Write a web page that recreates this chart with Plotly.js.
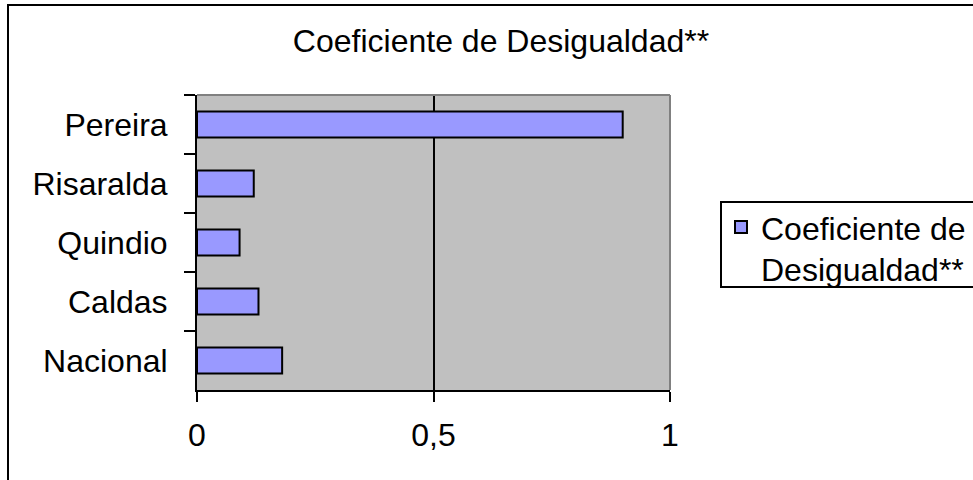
<!DOCTYPE html>
<html>
<head>
<meta charset="utf-8">
<script src="https://cdn.plot.ly/plotly-3.0.1.min.js"></script>
<style>
  html, body { margin: 0; padding: 0; background: #ffffff; overflow: hidden; }
  #chart { width: 973px; height: 480px; position: absolute; left: 0; top: 0; }
  #frame { position: absolute; left: 7px; top: 4px; width: 1000px; height: 520px;
           border: 2px solid #000; pointer-events: none; box-sizing: border-box; }
</style>
</head>
<body>
<div id="chart"></div>
<div id="frame"></div>
<script>
const categories = ['Pereira', 'Risaralda', 'Quindio', 'Caldas', 'Nacional'];
const values = [0.90, 0.12, 0.09, 0.13, 0.18];
const seriesName = 'Coeficiente de<br>Desigualdad**';
const chartTitle = 'Coeficiente de Desigualdad**';
const xTicks = [0, 0.5, 1];

const FONT = '"Liberation Sans", Arial, "DejaVu Sans", sans-serif';
const FS = 32;

const trace = {
  type: 'bar',
  orientation: 'h',
  x: values,
  y: categories,
  name: seriesName,
  marker: { color: '#9999FF', line: { color: '#000000', width: 2 } },
  showlegend: true,
  hoverinfo: 'x+y'
};

const layout = {
  width: 973,
  height: 480,
  margin: { l: 197, r: 303, t: 95, b: 90, pad: 0, autoexpand: false },
  paper_bgcolor: '#ffffff',
  plot_bgcolor: '#C0C0C0',
  separators: ',.',
  font: { family: FONT, size: FS, color: '#000000' },
  title: {
    text: chartTitle,
    font: { family: FONT, size: FS, color: '#000000' },
    xref: 'paper', x: (501 - 197) / 473, xanchor: 'center',
    yref: 'container', y: 1 - 41 / 480, yanchor: 'middle'
  },
  bargap: 0.56,
  showlegend: true,
  legend: {
    x: (721 - 197) / 473, xanchor: 'left',
    y: 0.645, yanchor: 'top',
    bgcolor: 'rgba(0,0,0,0)',
    borderwidth: 0,
    valign: 'top',
    font: { family: FONT, size: FS, color: '#000000' }
  },
  xaxis: {
    range: [0, 1],
    tickvals: xTicks,
    ticks: 'outside', ticklen: 10, tickwidth: 2, tickcolor: '#000000',
    showline: true, linecolor: '#000000', linewidth: 2,
    showgrid: true, gridcolor: '#000000', gridwidth: 2,
    zeroline: false,
    ticklabelstandoff: 6,
    tickfont: { family: FONT, size: FS, color: '#000000' },
    fixedrange: true
  },
  yaxis: {
    type: 'category',
    autorange: 'reversed',
    tickson: 'boundaries',
    ticks: 'outside', ticklen: 11, tickwidth: 2, tickcolor: '#000000',
    showline: true, linecolor: '#000000', linewidth: 2,
    showgrid: false,
    zeroline: false,
    ticklabelstandoff: 21,
    tickfont: { family: FONT, size: FS, color: '#000000' },
    fixedrange: true
  },
  shapes: [
    { type: 'line', xref: 'paper', yref: 'paper', x0: 0, x1: 1, y0: 1, y1: 1,
      line: { color: '#808080', width: 2 }, layer: 'above' },
    { type: 'line', xref: 'paper', yref: 'paper', x0: 1, x1: 1, y0: 0, y1: 1,
      line: { color: '#808080', width: 2 }, layer: 'above' },
    { type: 'rect', xref: 'paper', yref: 'paper',
      x0: (721 - 197) / 473, x1: 1.8, y0: (390 - 287) / 295, y1: (390 - 202) / 295,
      line: { color: '#000000', width: 2 }, fillcolor: 'rgba(0,0,0,0)', layer: 'above' }
  ]
};

Plotly.newPlot('chart', [trace], layout, { displayModeBar: false, staticPlot: true });
</script>
</body>
</html>
